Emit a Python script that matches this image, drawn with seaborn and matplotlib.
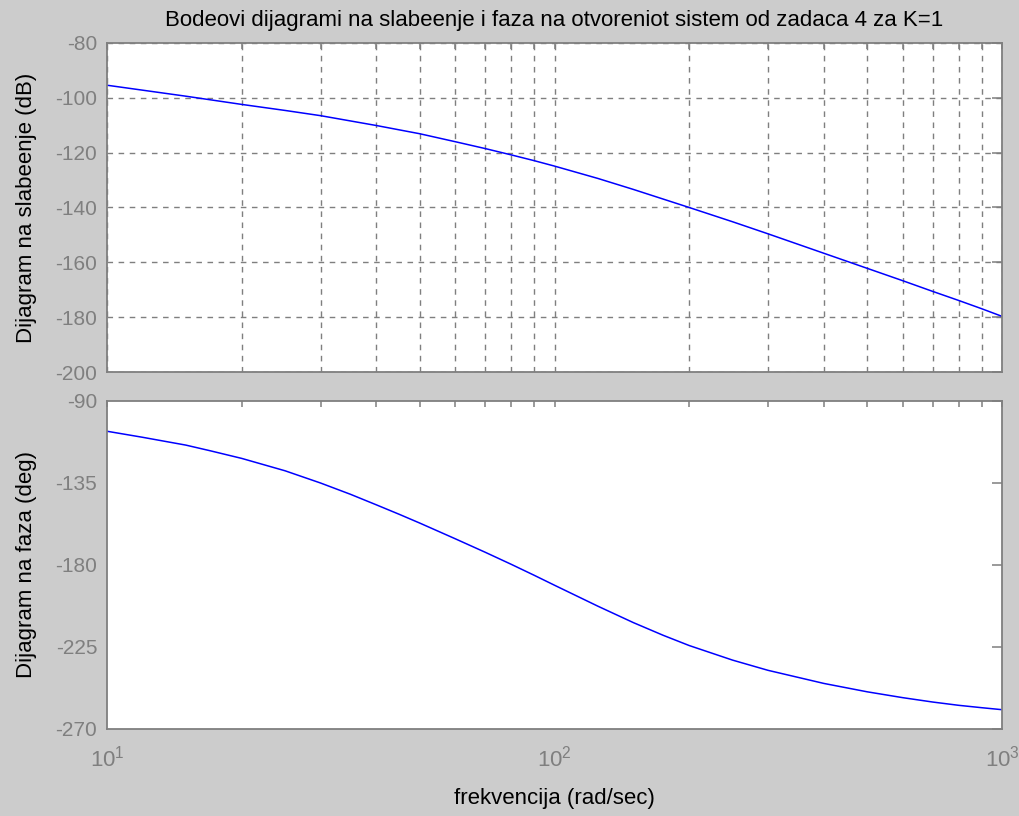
import numpy as np
import pandas as pd
import seaborn as sns
import matplotlib.pyplot as plt
from matplotlib.ticker import LogLocator, NullFormatter

# values
mag_freq = [10, 15, 20, 25, 30, 40, 50, 60, 70, 80, 90, 100, 125, 150, 200, 250, 300,
            400, 500, 600, 700, 800, 900, 1000]
mag_db = [-95.4, -99.4, -102.4, -104.6, -106.5, -110.1, -113.1, -116.0, -118.5, -120.8,
          -122.9, -124.9, -129.4, -133.4, -140.0, -145.2, -149.6, -156.7, -162.2, -166.7,
          -170.6, -173.9, -176.9, -179.7]

phase_freq = [10, 12, 15, 17, 20, 25, 30, 35, 40, 45, 50, 60, 70, 80, 90, 100, 125, 150, 175,
              200, 250, 300, 400, 500, 600, 700, 800, 900, 1000]
phase_deg = [-106.6, -109.9, -114.2, -117.3, -121.5, -128.3, -135.0, -141.2, -147.0, -152.2,
             -157.0, -165.6, -173.0, -179.6, -185.6, -191.1, -202.6, -211.6, -218.6, -224.2,
             -232.2, -237.8, -245.0, -249.6, -252.8, -255.2, -257.0, -258.3, -259.4]

mag_ticks = [-200, -180, -160, -140, -120, -100, -80]
phase_ticks = [-270, -225, -180, -135, -90]

mag_df = pd.DataFrame({"w": mag_freq, "mag": mag_db})
phase_df = pd.DataFrame({"w": phase_freq, "phase": phase_deg})

sns.set_style("white")
plt.rcParams['font.family'] = ['Liberation Sans', 'DejaVu Sans']
plt.rcParams['axes.unicode_minus'] = False
plt.rcParams['mathtext.default'] = 'regular'

bg = "#cccccc"
grey = "#7f7f7f"

fig = plt.figure(figsize=(10.19, 8.16), dpi=100, facecolor=bg)
ax1 = fig.add_axes([107 / 1019, 1 - 372 / 816, 895 / 1019, 329 / 816])
ax2 = fig.add_axes([107 / 1019, 1 - 729 / 816, 895 / 1019, 328 / 816])

sns.lineplot(data=mag_df, x="w", y="mag", ax=ax1, color="#0000ff", linewidth=1.1)
sns.lineplot(data=phase_df, x="w", y="phase", ax=ax2, color="#0000ff", linewidth=1.1)

for ax in (ax1, ax2):
    ax.set_xscale("log")
    ax.set_xlim(10, 1000)
    ax.set_facecolor("white")
    for s in ax.spines.values():
        s.set_color(grey)
        s.set_linewidth(1.3)
    ax.xaxis.set_minor_locator(LogLocator(base=10, subs=np.arange(2, 10)))
    ax.xaxis.set_minor_formatter(NullFormatter())
    ax.tick_params(which="both", direction="in", top=True, right=True,
                   color=grey, labelcolor=grey, labelsize=15, width=1.1)
    ax.tick_params(axis="x", which="both", length=4.5)
    ax.tick_params(axis="y", which="major", length=7, pad=7)

ax1.set_ylim(-200, -80)
ax1.set_yticks(mag_ticks)
ax1.set_xticklabels([])
ax1.set_xlabel("")
ax1.set_ylabel("Dijagram na slabeenje (dB)", fontsize=16, color="black", labelpad=13)
ax1.grid(True, which="major", axis="y", linestyle=(0, (4, 4)), color=grey, linewidth=1)
ax1.grid(True, which="both", axis="x", linestyle=(0, (4, 4)), color=grey, linewidth=1)
ax1.set_title("Bodeovi dijagrami na slabeenje i faza na otvoreniot sistem od zadaca 4 za K=1",
              fontsize=16, color="black", pad=12)

ax2.set_ylim(-270, -90)
ax2.set_yticks(phase_ticks)
ax2.set_ylabel("Dijagram na faza (deg)", fontsize=16, color="black", labelpad=13)
ax2.set_xlabel("frekvencija (rad/sec)", fontsize=16, color="black", labelpad=12)
ax2.tick_params(axis="x", which="major", pad=12, labelsize=16)

fig.savefig("out.png", dpi=100, facecolor=bg)
